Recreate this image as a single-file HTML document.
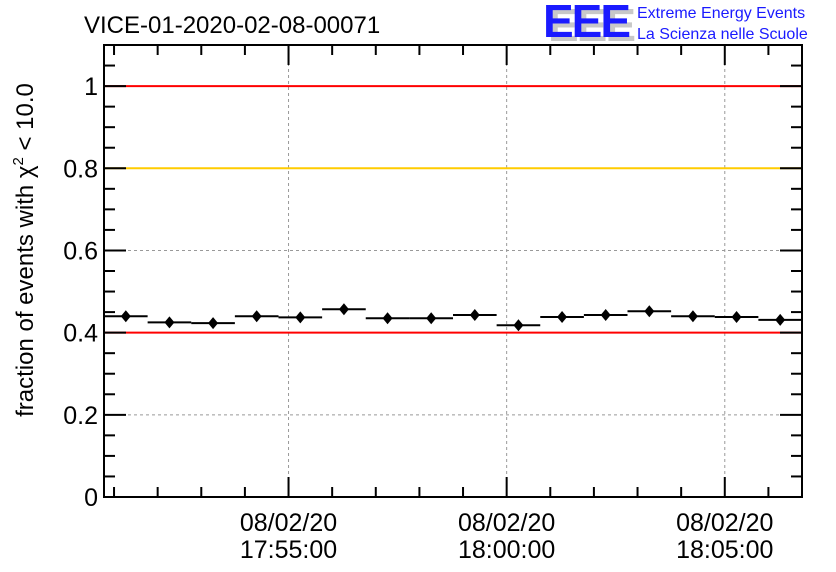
<!DOCTYPE html>
<html><head><meta charset="utf-8"><style>
html,body{margin:0;padding:0;background:#fff;}
svg{display:block;font-family:"Liberation Sans",sans-serif;}
</style></head><body>
<svg id="chart" width="836" height="572" viewBox="0 0 836 572">
<rect width="836" height="572" fill="#fff"/>
<text x="84" y="33" font-size="24" fill="#000">VICE-01-2020-02-08-00071</text>
<g>
<text x="548" y="41" font-size="46" font-weight="bold" fill="#c8c8c8" letter-spacing="-2">EEE</text>
<text x="543" y="37" font-size="46" font-weight="bold" fill="#1a1aff" letter-spacing="-2">EEE</text>
<text x="637" y="18" font-size="16" fill="#1a1aff">Extreme Energy Events</text>
<text x="637" y="39" font-size="16" fill="#1a1aff">La Scienza nelle Scuole</text>
</g>
<text transform="translate(33,250) rotate(-90)" text-anchor="middle" font-size="24" fill="#000">fraction of events with χ<tspan dy="-10" font-size="15">2</tspan><tspan dy="10"> &lt; 10.0</tspan></text>
<g id="grid"></g>
<g id="refs"></g>
<g id="marks"></g>
<g id="axes"></g>
</svg>
<script>
// minutes relative to 17:55:00
const binStarts = [-4.23,-3.23,-2.23,-1.23,-0.23,0.77,1.77,2.77,3.77,4.77,5.77,6.77,7.77,8.77,9.77,10.77];
const values = [0.440,0.425,0.423,0.440,0.437,0.457,0.435,0.435,0.443,0.418,0.438,0.443,0.452,0.440,0.438,0.431];
const errors = [0.010,0.010,0.010,0.010,0.010,0.010,0.010,0.010,0.010,0.010,0.010,0.010,0.010,0.010,0.010,0.010];
const yTicks = [0,0.2,0.4,0.6,0.8,1];
const yTickLabels = ["0","0.2","0.4","0.6","0.8","1"];
const xMajor = [0,5,10];
const xMajorLabels = [["08/02/20","17:55:00"],["08/02/20","18:00:00"],["08/02/20","18:05:00"]];
const refValues = [1.0,0.8,0.4];
const refColors = ["#ff0000","#ffcc00","#ff0000"];

const L=104,R=802,T=45,B=497;
const xMin=-4.23,xMax=11.77,yMin=0,yMax=1.1;
const X=v=>L+(v-xMin)/(xMax-xMin)*(R-L);
const Y=v=>B-(v-yMin)/(yMax-yMin)*(B-T);
const NS="http://www.w3.org/2000/svg";
function mk(tag,parent,attrs){const e=document.createElementNS(NS,tag);for(const k in attrs)e.setAttribute(k,attrs[k]);parent.appendChild(e);return e;}
const grid=document.getElementById('grid'),refs=document.getElementById('refs'),marks=document.getElementById('marks'),axes=document.getElementById('axes');

yTicks.forEach(v=>{if(v>0){const g=mk('line',grid,{x1:L,x2:R,y1:Y(v),y2:Y(v),stroke:'#999','stroke-dasharray':'3,3','stroke-width':1});

}});
xMajor.forEach(v=>{const g=mk('line',grid,{x1:X(v),x2:X(v),y1:T,y2:B,stroke:'#999','stroke-dasharray':'3,3','stroke-width':1});

});

refValues.forEach((v,i)=>{const l=mk('line',refs,{x1:L,x2:R,y1:Y(v),y2:Y(v),stroke:refColors[i],'stroke-width':2});

});

values.forEach((v,i)=>{
const x0=X(binStarts[i]),x1=X(binStarts[i]+1),cx=(x0+x1)/2,cy=Y(v);
const g=mk('g',marks,{});


mk('line',g,{x1:x0,x2:x1,y1:cy,y2:cy,stroke:'#000','stroke-width':2});
mk('line',g,{x1:cx,x2:cx,y1:Y(v+errors[i]),y2:Y(v-errors[i]),stroke:'#000','stroke-width':2});
mk('path',g,{d:`M${cx} ${cy-6}L${cx+5} ${cy}L${cx} ${cy+6}L${cx-5} ${cy}Z`,fill:'#000'});
});

const frame=mk('rect',axes,{x:L,y:T,width:R-L,height:B-T,fill:'none',stroke:'#000','stroke-width':2});


// y ticks
for(let k=0;k<=22;k++){const v=k*0.05;const maj=(k%4===0);const len=maj?22:11;const y=Y(v);
mk('line',axes,{x1:L,x2:L+len,y1:y,y2:y,stroke:'#000','stroke-width':2});
mk('line',axes,{x1:R,x2:R-len,y1:y,y2:y,stroke:'#000','stroke-width':2});}
yTicks.forEach((v,i)=>{const t=mk('text',axes,{x:L-6,y:Y(v)+9,'text-anchor':'end','font-size':25,fill:'#000'});t.textContent=yTickLabels[i];

});
// x ticks every minute
for(let m=Math.ceil(xMin);m<=xMax;m++){const maj=(m%5===0);const len=maj?20:10;const x=X(m);
mk('line',axes,{x1:x,x2:x,y1:B,y2:B-len,stroke:'#000','stroke-width':2});
mk('line',axes,{x1:x,x2:x,y1:T,y2:T+len,stroke:'#000','stroke-width':2});}
xMajor.forEach((v,i)=>{[0,1].forEach(j=>{const t=mk('text',axes,{x:X(v),y:531+j*27,'text-anchor':'middle','font-size':25,fill:'#000'});t.textContent=xMajorLabels[i][j];

});});
</script>
</body></html>
